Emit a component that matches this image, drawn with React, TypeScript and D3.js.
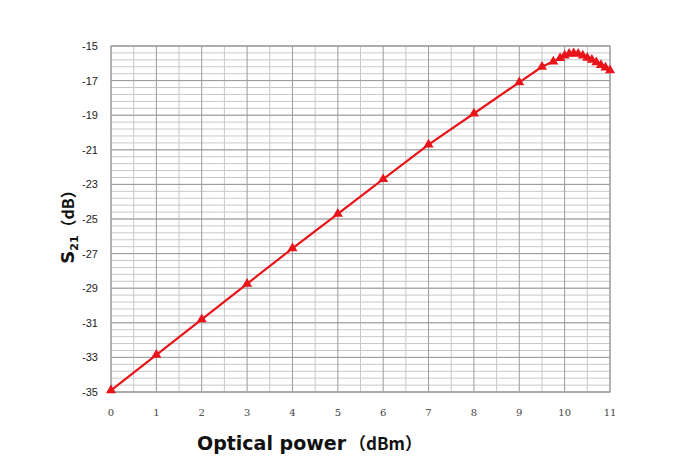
import React from "react";
import * as d3 from "d3";

const powerX: number[] = [0, 1, 2, 3, 4, 5, 6, 7, 8, 9, 9.5, 9.75, 9.9, 10, 10.1, 10.2, 10.3, 10.4, 10.5, 10.6, 10.7, 10.8, 10.9, 11];
const s21Y: number[] = [-34.9, -32.85, -30.8, -28.75, -26.7, -24.7, -22.7, -20.7, -18.9, -17.1, -16.2, -15.9, -15.7, -15.55, -15.45, -15.42, -15.45, -15.55, -15.68, -15.8, -15.95, -16.1, -16.25, -16.4];
const xTicks: number[] = [0, 1, 2, 3, 4, 5, 6, 7, 8, 9, 10, 11];
const yTicks: number[] = [-15, -17, -19, -21, -23, -25, -27, -29, -31, -33, -35];

const W = 695;
const H = 475;
const M = { left: 111, right: 85, top: 46, bottom: 83 };

export default function App() {
  const x = d3.scaleLinear().domain([0, 11]).range([M.left, W - M.right]);
  const y = d3.scaleLinear().domain([-35, -15]).range([H - M.bottom, M.top]);
  const line = d3.line<number>().x((_, i) => x(powerX[i])).y((d) => y(d));
  const tri = d3.symbol().type(d3.symbolTriangle).size(44)() as string;

  const vMinor = d3.range(0, 11.001, 0.5);
  const hMinor = d3.range(-35, -14.999, 0.4);

  return (
    <svg width={W} height={H} style={{ display: "block", position: "absolute", left: 0, top: 0, background: "#fff" }}>
      <rect x={0} y={0} width={W} height={H} fill="#fff" />
      {hMinor.map((v, i) => (
        <line key={"h" + i} x1={x(0)} x2={x(11)} y1={y(v)} y2={y(v)} stroke="#c8c8c8" strokeWidth={1} />
      ))}
      {vMinor.map((v, i) => (
        <line key={"v" + i} x1={x(v)} x2={x(v)} y1={y(-35)} y2={y(-15)} stroke={Number.isInteger(v) ? "#9a9a9a" : "#c8c8c8"} strokeWidth={1} />
      ))}
      {yTicks.map((v) => (
        <line key={"hy" + v} x1={x(0)} x2={x(11)} y1={y(v)} y2={y(v)} stroke="#9a9a9a" strokeWidth={1} />
      ))}
      <rect x={x(0)} y={y(-15)} width={x(11) - x(0)} height={y(-35) - y(-15)} fill="none" stroke="#a0a0a0" strokeWidth={1.2} />
      {yTicks.map((v) => (
        <text key={"yt" + v} x={x(0) - 13} y={y(v) + 4} textAnchor="end" fontFamily="'Liberation Sans', Arial, sans-serif" fontSize={11} fill="#222">
          {v}
        </text>
      ))}
      {xTicks.map((v) => (
        <text key={"xt" + v} x={x(v)} y={y(-35) + 24} textAnchor="middle" fontFamily="'DejaVu Serif', serif" fontSize={10} fill="#444">
          {v}
        </text>
      ))}
      <path d={line(s21Y) as string} fill="none" stroke="#e8141a" strokeWidth={2.2} />
      {s21Y.map((v, i) => (
        <path key={"m" + i} d={tri} transform={`translate(${x(powerX[i])},${y(v)})`} fill="#e8141a" />
      ))}
      <text x={197} y={450} fontFamily="'DejaVu Sans', sans-serif" fill="#111">
        <tspan fontWeight="bold" fontSize={19}>Optical power</tspan>
        <tspan fontSize={17} dx={3} fontFamily="'Noto Sans CJK SC', sans-serif" fontWeight="bold">（dBm）</tspan>
      </text>
      <text transform={`translate(74,${223}) rotate(-90)`} textAnchor="middle" fontFamily="'DejaVu Sans', sans-serif" fill="#111">
        <tspan fontWeight="bold" fontSize={18}>S</tspan>
        <tspan fontWeight="bold" fontSize={11} dy={4}>21</tspan>
        <tspan fontSize={16} dy={-4} fontFamily="'Noto Sans CJK SC', sans-serif" fontWeight="bold">（dB）</tspan>
      </text>
    </svg>
  );
}
